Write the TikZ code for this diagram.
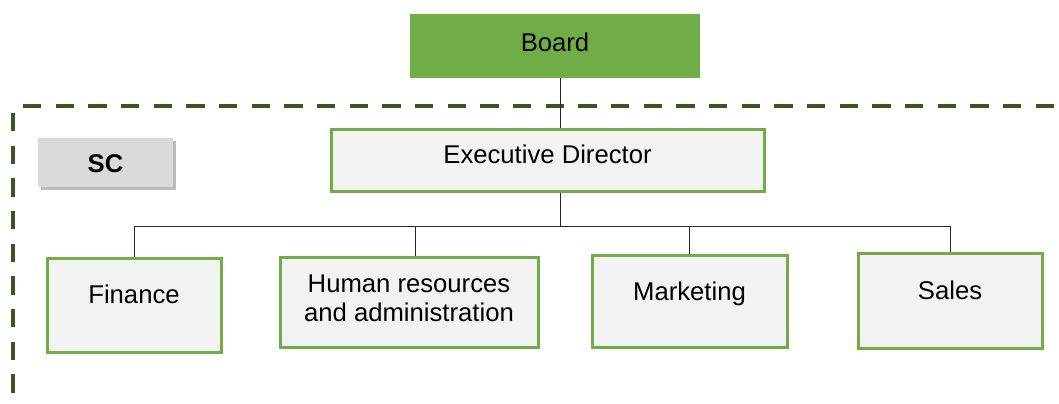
\documentclass[tikz,border=0pt]{standalone}
\usepackage{fontspec}
\setmainfont{Liberation Sans}
\usetikzlibrary{shadows}

\definecolor{boardgreen}{RGB}{112,173,71}
\definecolor{scline}{RGB}{56,87,35}
\definecolor{deptfill}{RGB}{242,242,242}
\definecolor{scfill}{RGB}{217,217,217}

\tikzset{every picture/.style={line width=0.75pt}}
\tikzset{
  deptbox/.style={draw=boardgreen, line width=2.25pt, fill=deptfill, inner sep=0pt},
  boardbox/.style={fill=boardgreen, inner sep=0pt},
  scbox/.style={fill=scfill, inner sep=0pt,
    drop shadow={shadow xshift=2.5pt, shadow yshift=-2.5pt, fill=black!60, opacity=0.45}},
  txt/.style={inner sep=0pt, font=\fontsize{19.25}{21.75}\selectfont},
  scdash/.style={draw=scline, line width=3pt, dash pattern=on 13.75pt off 10.75pt},
  tie/.style={draw=black!85, line width=0.75pt}
}

\begin{document}
\begin{tikzpicture}[x=0.75pt,y=0.75pt,yscale=-1,xscale=1]
\useasboundingbox (0,0) rectangle (1059,403);

%Dashed frame
\draw [scdash] (23,106) -- (1059,106) ;
\draw [scdash] (13,113) -- (13,403) ;

%Shape: Rectangle [Board]
\node [boardbox, minimum width=217.5pt, minimum height=48pt] (board) at (555,46) {};
%Shape: Rectangle [Executive Director]
\node [deptbox, minimum width=324.75pt, minimum height=46.5pt] (ed) at (547.5,160) {};
%Shape: Rectangle [SC]
\node [scbox, minimum width=101.25pt, minimum height=36.75pt] (sc) at (105.5,162.5) {};
%Shape: Rectangle [departments]
\node [deptbox, minimum width=130.5pt, minimum height=70.5pt] (fin) at (134,305) {};
\node [deptbox, minimum width=193.5pt, minimum height=67.5pt] (hr) at (409,302) {};
\node [deptbox, minimum width=146.25pt, minimum height=69pt] (mkt) at (689.5,301) {};
\node [deptbox, minimum width=138pt, minimum height=71.25pt] (sales) at (950,300.5) {};

%Connectors
\coordinate (trunk) at (560,226) ;
\coordinate (hrtop) at ([xshift=4.5pt]hr.north) ;
\draw [tie] (board.south -| trunk) -- (ed.north -| trunk) ;
\draw [tie] (ed.south -| trunk) -- (trunk) ;
\draw [tie] (fin.north |- trunk) -- (sales.north |- trunk) ;
\foreach \d in {fin,hrtop,mkt,sales}
  \draw [tie] (\d |- trunk) -- (\d) ;

% Text Node
\node [txt, anchor=base] (boardT) at (555,51) {Board};
% Text Node
\node [txt, anchor=base] (edT) at (547.5,163) {Executive Director};
% Text Node
\node [txt, anchor=base] (scT) at (105.5,172) {\bfseries SC};
% Text Node
\node [txt, anchor=base] (finT) at (134,303) {Finance};
% Text Node
\node [txt, align=center] (hrT) at (409,298.5) {Human resources\\and administration};
% Text Node
\node [txt, anchor=base] (mktT) at (689.5,300) {Marketing};
% Text Node
\node [txt, anchor=base] (salesT) at (950,299) {Sales};

\end{tikzpicture}
\end{document}
